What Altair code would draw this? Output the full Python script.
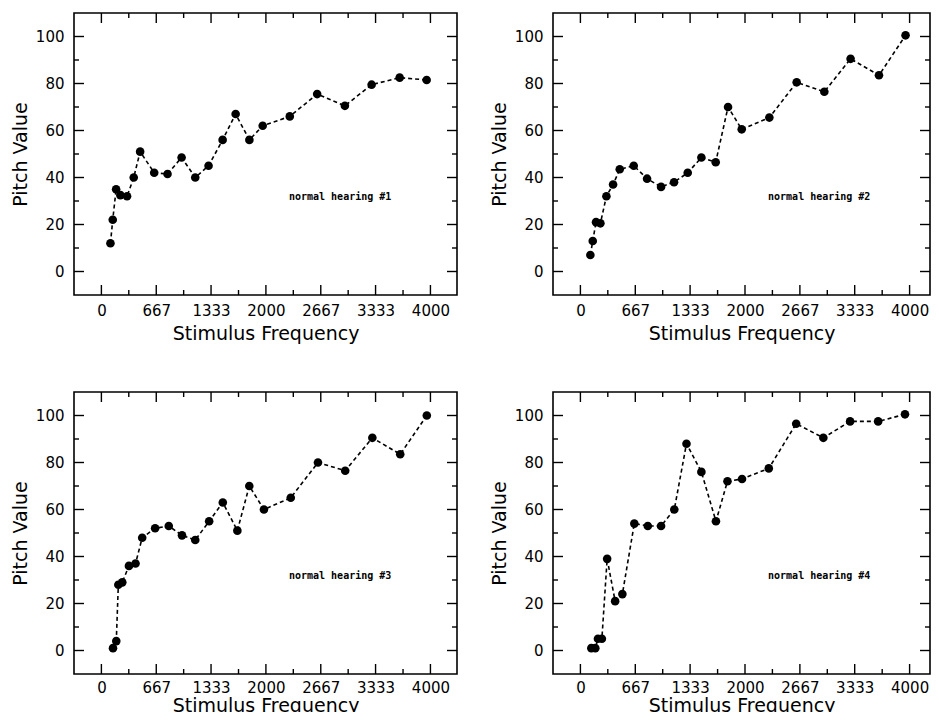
import altair as alt
import pandas as pd

# ---- data ----
freq1 = [110, 138, 179, 231, 312, 393, 471, 642, 804, 975, 1141, 1303, 1474, 1632, 1799, 1961, 2290, 2623, 2960, 3285, 3626, 3954]
pitch1 = [12, 22, 35, 32.5, 32, 40, 51, 42, 41.5, 48.5, 40, 45, 56, 67, 56, 62, 66, 75.5, 70.5, 79.5, 82.5, 81.5]

freq2 = [121, 150, 190, 243, 316, 397, 478, 648, 810, 980, 1138, 1304, 1470, 1644, 1794, 1960, 2296, 2628, 2964, 3283, 3628, 3951]
pitch2 = [7, 13, 21, 20.5, 32, 37, 43.5, 45, 39.5, 36, 38, 42, 48.5, 46.5, 70, 60.5, 65.5, 80.5, 76.5, 90.5, 83.5, 100.5]

freq3 = [141, 181, 206, 254, 335, 415, 496, 653, 819, 980, 1141, 1310, 1476, 1653, 1798, 1976, 2302, 2633, 2964, 3294, 3633, 3956]
pitch3 = [1, 4, 28, 29, 36, 37, 48, 52, 53, 49, 47, 55, 63, 51, 70, 60, 65, 80, 76.5, 90.5, 83.5, 100]

freq4 = [133, 181, 213, 261, 325, 422, 510, 655, 819, 980, 1141, 1289, 1470, 1647, 1787, 1964, 2289, 2622, 2952, 3277, 3618, 3944]
pitch4 = [1, 1, 5, 5, 39, 21, 24, 54, 53, 53, 60, 88, 76, 55, 72, 73, 77.5, 96.5, 90.5, 97.5, 97.5, 100.5]

labels = ["normal hearing #1", "normal hearing #2", "normal hearing #3", "normal hearing #4"]
note_x = [2280]
note_y = [31.5]

x_major = [0, 667, 1333, 2000, 2667, 3333, 4000]
x_minor = [333, 1000, 1667, 2333, 3000, 3667]
y_major = [0, 20, 40, 60, 80, 100]
y_minor = [10, 30, 50, 70, 90]

H = 282
FONT = "DejaVu Sans"


def panel(freq, pitch, label, W, xmax, lab_pad=8, tit_pad=6):
    xs = alt.Scale(domain=[-333, xmax], nice=False, zero=False)
    ys = alt.Scale(domain=[-10, 110], nice=False, zero=False)
    df = pd.DataFrame({"f": freq, "p": pitch})
    xax = alt.Axis(values=x_major, title="Stimulus Frequency", grid=False, ticks=False,
                   tickSize=0, domain=False, labelFont=FONT, labelFontSize=15,
                   labelPadding=lab_pad, labelColor="black", labelFlush=False, labelOverlap=False,
                   titleFont=FONT, titleFontSize=19, titleFontWeight="normal",
                   titleColor="black", titlePadding=tit_pad, format="d")
    yax = alt.Axis(values=y_major, title="Pitch Value", grid=False, ticks=False,
                   tickSize=0, domain=False, labelFont=FONT, labelFontSize=15,
                   labelPadding=10, labelColor="black", labelFlush=False, labelOverlap=False,
                   titleFont=FONT, titleFontSize=19, titleFontWeight="normal",
                   titleColor="black", titlePadding=5, format="d")

    def X():
        return alt.X("f:Q", scale=xs, axis=xax)

    def Y():
        return alt.Y("p:Q", scale=ys, axis=yax)

    base = alt.Chart(df)
    line = base.mark_line(color="black", strokeDash=[4, 3], strokeWidth=1.6).encode(x=X(), y=Y())
    pts = base.mark_circle(color="black", size=74, opacity=1).encode(x=X(), y=Y())
    layers = [line, pts]
    xmaj = pd.DataFrame({"f": x_major})
    xmin = pd.DataFrame({"f": x_minor})
    ymaj = pd.DataFrame({"p": y_major})
    ymin = pd.DataFrame({"p": y_minor})
    for d, ln in ((xmaj, 10), (xmin, 5)):
        layers.append(alt.Chart(d).mark_rule(color="black", strokeWidth=1.4).encode(
            x=X(), y=alt.value(H), y2=alt.value(H - ln)))
        layers.append(alt.Chart(d).mark_rule(color="black", strokeWidth=1.4).encode(
            x=X(), y=alt.value(0), y2=alt.value(ln)))
    for d, ln in ((ymaj, 10), (ymin, 5)):
        layers.append(alt.Chart(d).mark_rule(color="black", strokeWidth=1.4).encode(
            y=Y(), x=alt.value(0), x2=alt.value(ln)))
        layers.append(alt.Chart(d).mark_rule(color="black", strokeWidth=1.4).encode(
            y=Y(), x=alt.value(W), x2=alt.value(W - ln)))
    note = pd.DataFrame({"f": note_x, "p": note_y, "t": [label]})
    layers.append(alt.Chart(note).mark_text(align="left", baseline="middle",
                                             font="DejaVu Sans Mono", fontWeight="bold",
                                             fontSize=10, color="black").encode(
        x=X(), y=Y(), text="t:N"))
    return alt.layer(*layers).properties(width=W, height=H)


p1 = panel(freq1, pitch1, labels[0], 383, 4323)
p2 = panel(freq2, pitch2, labels[1], 377, 4248)
p3 = panel(freq3, pitch3, labels[2], 383, 4323, lab_pad=6, tit_pad=1)
p4 = panel(freq4, pitch4, labels[3], 377, 4248, lab_pad=6, tit_pad=1)

chart = alt.vconcat(
    alt.hconcat(p1, p2, spacing=30),
    alt.hconcat(p3, p4, spacing=30),
    spacing=46,
).properties(
    autosize=alt.AutoSizeParams(type="none"),
    padding={"left": 66, "top": 5, "right": 857, "bottom": 699},
    background="white",
).configure_view(stroke="black", strokeWidth=1.6)

chart.save("out.html", embed_options={"renderer": "svg", "actions": False})
